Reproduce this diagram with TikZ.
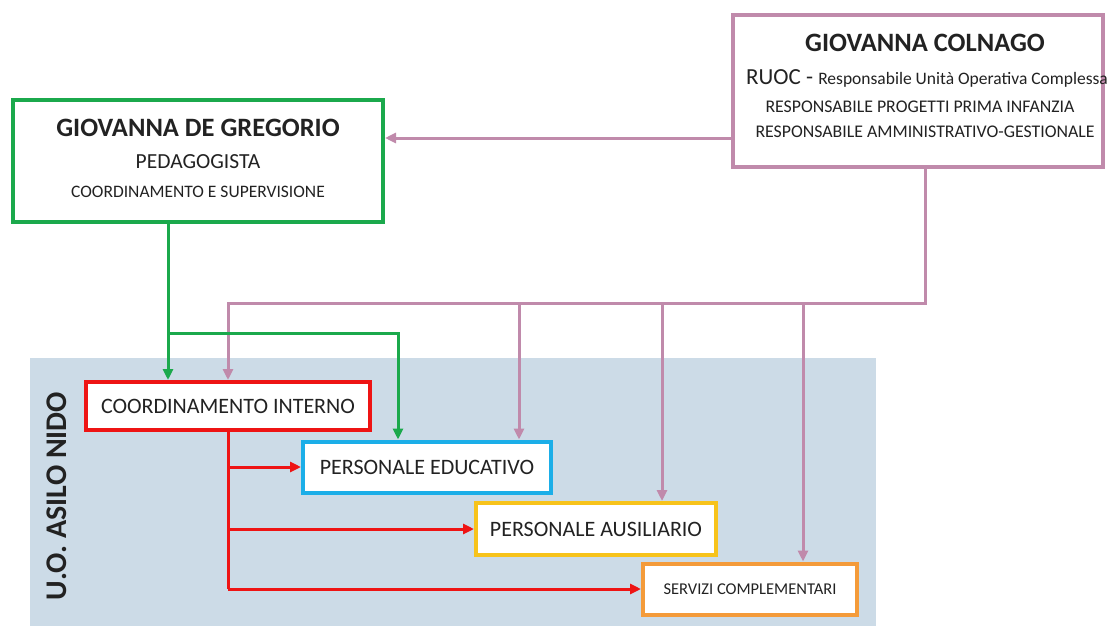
\documentclass[tikz,border=0pt]{standalone}
\usepackage{fontspec}
\setmainfont{Carlito}
\usetikzlibrary{arrows.meta}

\definecolor{ruocpink}{HTML}{C08AAB}
\definecolor{pedgreen}{HTML}{1BA94C}
\definecolor{coordred}{HTML}{EE1414}
\definecolor{educblue}{HTML}{1BAEE8}
\definecolor{ausyellow}{HTML}{F7C31B}
\definecolor{servorange}{HTML}{F49B3A}
\definecolor{asilobg}{HTML}{CCDBE7}
\definecolor{inkgray}{HTML}{222222}

\tikzset{
  unitbox/.style={draw, line width=4pt, fill=white, inner sep=0pt, text=inkgray},
  link/.style={line width=3pt, -{Triangle[length=11pt,width=10pt]}},
  plain/.style={line width=3pt},
}

\begin{document}
\begin{tikzpicture}[x=1pt,y=-1pt]
\useasboundingbox (0,0) rectangle (1108,626);
% background of the unit
\fill[asilobg] (30,358) rectangle (876,626);
\node[rotate=90, text=inkgray, inner sep=0pt, anchor=base] (asilo) at (66,496) {\fontsize{30}{34}\selectfont\bfseries U.O. ASILO NIDO};

% the two heads
\node[unitbox, draw=ruocpink, minimum width=370pt, minimum height=152pt] (colnago) at (918,91) {};
\node[text=inkgray] (colnagoname) at (925,43) {\fontsize{26.5}{30}\selectfont\bfseries GIOVANNA COLNAGO};
\node[text=inkgray] (ruoc) at (927,78) {\fontsize{23}{26}\selectfont RUOC - \fontsize{17.5}{20}\selectfont Responsabile Unità Operativa Complessa};
\node[text=inkgray] (progetti) at (920,107) {\fontsize{17.8}{20}\selectfont RESPONSABILE PROGETTI PRIMA INFANZIA};
\node[text=inkgray] (gestione) at (925,132) {\fontsize{17.8}{20}\selectfont RESPONSABILE AMMINISTRATIVO-GESTIONALE};

\node[unitbox, draw=pedgreen, minimum width=370pt, minimum height=122pt] (dg) at (198,161) {};
\node[text=inkgray] (dgname) at (198,128) {\fontsize{26.5}{30}\selectfont\bfseries GIOVANNA DE GREGORIO};
\node[text=inkgray] (pedag) at (198,162) {\fontsize{21.5}{25}\selectfont PEDAGOGISTA};
\node[text=inkgray] (superv) at (198,192) {\fontsize{17.5}{20}\selectfont COORDINAMENTO E SUPERVISIONE};

% boxes of the unit
\node[unitbox, draw=coordred, minimum width=284pt, minimum height=48pt] (ci) at (228,406) {\fontsize{22}{26}\selectfont COORDINAMENTO INTERNO};
\node[unitbox, draw=educblue, minimum width=248pt, minimum height=51pt] (pe) at (427,467) {\fontsize{22}{26}\selectfont PERSONALE EDUCATIVO};
\node[unitbox, draw=ausyellow, minimum width=240pt, minimum height=52pt] (pa) at (596,529) {\fontsize{22}{26}\selectfont PERSONALE AUSILIARIO};
\node[unitbox, draw=servorange, minimum width=214pt, minimum height=51pt] (sc) at (750,589) {\fontsize{16.5}{19}\selectfont SERVIZI COMPLEMENTARI};

% pink lines from the RUOC
\coordinate (c1) at (733,138);
\draw[link, ruocpink] (c1) -- (c1 -| dg.east);
\coordinate (pk) at (925,303);
\coordinate (bpe) at (519,303);
\coordinate (bpa) at (662,303);
\coordinate (bsc) at (803,303);
\draw[link, ruocpink] (colnago.south -| pk) -- (pk) -- (pk -| ci.north) -- (ci.north);
\draw[link, ruocpink] (bpe) -- (bpe |- pe.north);
\draw[link, ruocpink] (bpa) -- (bpa |- pa.north);
\draw[link, ruocpink] (bsc) -- (bsc |- sc.north);

% green lines from the pedagogist
\coordinate (gk) at (168,333);
\coordinate (ge) at (398,333);
\draw[link, pedgreen] (dg.south -| gk) -- (gk |- ci.north);
\draw[link, pedgreen] (gk) -- (ge) -- (ge |- pe.north);

% red lines inside the unit
\draw[plain, coordred] (ci.south) -- (ci.south |- sc.west);
\draw[link, coordred] (ci.south |- pe.west) -- (pe.west);
\draw[link, coordred] (ci.south |- pa.west) -- (pa.west);
\draw[link, coordred] (ci.south |- sc.west) -- (sc.west);
\end{tikzpicture}
\end{document}
